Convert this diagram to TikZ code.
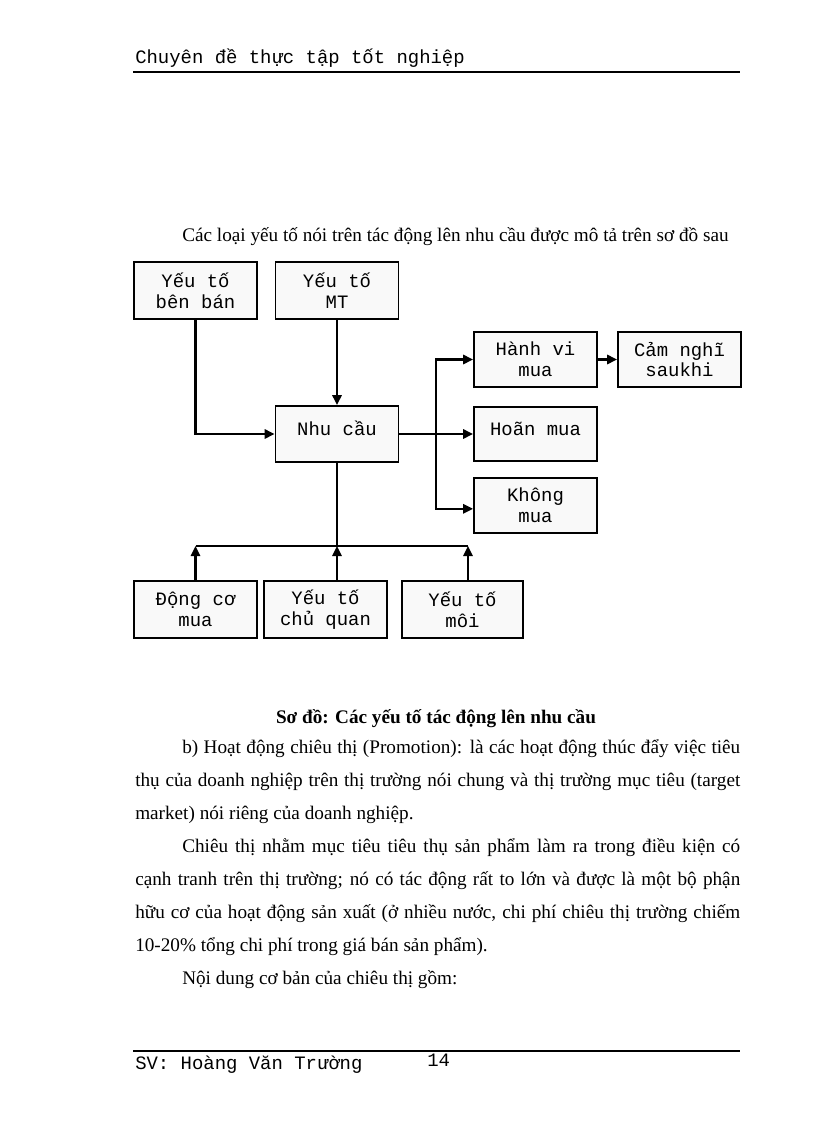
\documentclass[tikz,border=0pt]{standalone}
\usepackage{fontspec}
\setmainfont{Liberation Serif}
\newfontfamily\monof{Liberation Mono}
\usetikzlibrary{arrows.meta}
\begin{document}
\begin{tikzpicture}[x=0.75pt,y=-0.75pt,
  box/.style={draw, line width=1.4pt, fill=gray!5, align=center, inner sep=0pt,
    font=\monof\fontsize{14.2}{15.5}\selectfont, minimum width=92.25pt, minimum height=42.5pt},
  conn/.style={line width=1.6pt},
  arr/.style={conn, -{Triangle[length=7.5pt,width=7pt]}},
  body/.style={anchor=base west, inner sep=0pt, font=\fontsize{14.4}{17}\selectfont},
  mono/.style={anchor=base west, inner sep=0pt, font=\monof\fontsize{14.2}{15}\selectfont}]
\useasboundingbox (0,0) rectangle (816,1123);
\fill[white] (0,0) rectangle (816,1123);
% header
\node[mono] (hdr) at (135,64) {Chuyên đề thực tập tốt nghiệp};
\draw[line width=2.2pt] (133,72) -- (740,72);
% intro line
\node[body] (intro) at (182,241) {Các loại yếu tố nói trên tác động lên nhu cầu được mô tả trên sơ đồ sau};
% boxes
\node[box] (benban) at (195.5,290.5) {Yếu tố\\bên bán};
\node[box] (mt) at (337,290.5) {Yếu tố\\MT};
\node[box, minimum height=42pt, text depth=9pt] (nhucau) at (337,434) {Nhu cầu};
\node[box, minimum height=41.25pt] (hanhvi) at (535.5,359.5) {Hành vi\\mua};
\node[box, minimum height=41.25pt] (camnghi) at (679.5,359.5) {Cảm nghĩ\\saukhi};
\node[box, minimum height=40.5pt, text depth=8pt] (hoan) at (535.5,434) {Hoãn mua};
\node[box, minimum height=41.25pt] (khong) at (535.5,505.5) {Không\\mua};
\node[box] (dongco) at (195.5,609.5) {Động cơ\\mua};
\node[box] (chuquan) at (325.5,609.5) {Yếu tố\\chủ quan};
\node[box, minimum width=90.75pt] (moi) at (462.5,609.5) {Yếu tố\\môi};
% connectors
\coordinate (j) at (436,434);
\coordinate (busL) at (195.5,546);
\coordinate (busR) at (468,546);
\draw[arr] (benban.south) |- (nhucau.west);
\draw[arr] (mt.south) -- (nhucau.north);
\draw[conn] (nhucau.east) -- (j);
\draw[arr] (j) |- (hanhvi.west);
\draw[arr] (j) -- (hoan.west);
\draw[arr] (j) |- ([yshift=-2.5pt]khong.west);
\draw[arr] (hanhvi.east) -- (camnghi.west);
\draw[conn] (nhucau.south) -- (nhucau.south |- busL);
\draw[conn] (busL) -- (busR);
\draw[arr] (dongco.north) -- (busL);
\draw[arr] (chuquan.north -| nhucau.south) -- (nhucau.south |- busL);
\draw[arr] (moi.north -| busR) -- (busR);
% caption
\node[anchor=base, inner sep=0pt, font=\bfseries\fontsize{14.4}{17}\selectfont] (cap) at (436,723) {Sơ đồ: Các yếu tố tác động lên nhu cầu};
% paragraph
\node[body] (l1) at (182,753) {\makebox[418.5pt][s]{b) Hoạt động chiêu thị (Promotion): là các hoạt động thúc đẩy việc tiêu}};
\node[body] (l2) at (135,786) {\makebox[453.75pt][s]{thụ của doanh nghiệp trên thị trường nói chung và thị trường mục tiêu (target}};
\node[body] (l3) at (135,819) {market) nói riêng của doanh nghiệp.};
\node[body] (l4) at (182,852) {\makebox[418.5pt][s]{Chiêu thị nhằm mục tiêu tiêu thụ sản phẩm làm ra trong điều kiện có}};
\node[body] (l5) at (135,885) {\makebox[453.75pt][s]{cạnh tranh trên thị trường; nó có tác động rất to lớn và được là một bộ phận}};
\node[body] (l6) at (135,918) {\makebox[453.75pt][s]{hữu cơ của hoạt động sản xuất (ở nhiều nước, chi phí chiêu thị trường chiếm}};
\node[body] (l7) at (135,951) {10-20\% tổng chi phí trong giá bán sản phẩm).};
\node[body] (l8) at (182,984) {Nội dung cơ bản của chiêu thị gồm:};
% footer
\draw[line width=2.2pt] (133,1051) -- (740,1051);
\node[mono] (ftr) at (135,1069) {SV: Hoàng Văn Trường};
\node[mono] (pg) at (427,1066) {14};
\end{tikzpicture}
\end{document}
